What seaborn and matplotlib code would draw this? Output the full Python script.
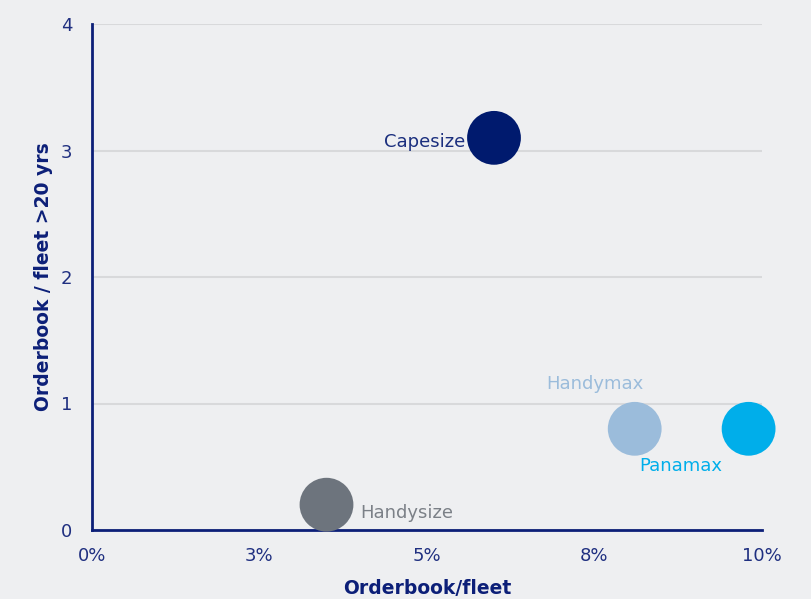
import matplotlib
matplotlib.use("Agg")
import matplotlib.pyplot as plt
import seaborn as sns
import pandas as pd

# Dry bulk segments: orderbook as share of fleet vs orderbook relative to fleet older than 20 years
segments = ["Capesize", "Handymax", "Panamax", "Handysize"]
orderbook_fleet_pct = [6.0, 8.1, 9.8, 3.5]
orderbook_vs_old_fleet = [3.1, 0.8, 0.8, 0.2]
segment_colors = ["#001a6e", "#9bbcdb", "#00aeea", "#6d747d"]
label_colors = ["#1b2f7e", "#9bbcdb", "#00aeea", "#7b8087"]

x_ticks = [0, 2.5, 5, 7.5, 10]
x_tick_labels = ["0%", "3%", "5%", "8%", "10%"]
y_ticks = [0, 1, 2, 3, 4]

df = pd.DataFrame({
    "segment": segments,
    "ob_fleet": orderbook_fleet_pct,
    "ob_old": orderbook_vs_old_fleet,
})

sns.set_theme(style="white")
plt.rcParams["font.family"] = ["DejaVu Sans"]

bg = "#eeeff1"
navy = "#0c1f78"
tick_color = "#1f2f80"

fig = plt.figure(figsize=(8.12, 5.99), dpi=100, facecolor=bg)
ax = fig.add_axes([92 / 812, 1 - 530 / 599, 670 / 812, 506 / 599])
ax.set_facecolor(bg)

sns.scatterplot(
    data=df, x="ob_fleet", y="ob_old", hue="segment",
    palette=dict(zip(segments, segment_colors)),
    s=1500, linewidth=0, alpha=1, legend=False, ax=ax, zorder=3, clip_on=False,
)

ax.set_xlim(0, 10)
ax.set_ylim(0, 4)
ax.set_xticks(x_ticks)
ax.set_xticklabels(x_tick_labels)
ax.set_yticks(y_ticks)
ax.set_yticklabels([str(v) for v in y_ticks])
ax.tick_params(axis="both", length=0, labelsize=13, labelcolor=tick_color)
ax.tick_params(axis="x", pad=12)
ax.tick_params(axis="y", pad=14)

ax.grid(axis="y", color="#d8d9db", linewidth=1.5, zorder=0)
ax.set_axisbelow(True)
for side in ["top", "right"]:
    ax.spines[side].set_visible(False)
for side in ["left", "bottom"]:
    ax.spines[side].set_color(navy)
    ax.spines[side].set_linewidth(2)
    ax.spines[side].set_zorder(2)

ax.set_xlabel("Orderbook/fleet", fontsize=13.5, fontweight="bold", color=navy)
ax.set_ylabel("Orderbook / fleet >20 yrs", fontsize=13.5, fontweight="bold", color=navy)
ax.xaxis.set_label_coords(0.5, (530 - 589) / 506)
ax.xaxis.label.set_va("center")
ax.yaxis.set_label_coords((44 - 92) / 670, 0.5)
ax.yaxis.label.set_va("center")

# Segment name labels beside each bubble (offsets in points)
offsets = [(-21, -3), (-29, 32), (-49, -27), (24, -6)]
aligns = ["right", "center", "center", "left"]
for name, xv, yv, c, off, ha in zip(segments, orderbook_fleet_pct, orderbook_vs_old_fleet,
                                      label_colors, offsets, aligns):
    ax.annotate(name, (xv, yv), xytext=off, textcoords="offset points",
                ha=ha, va="center", fontsize=13, color=c, zorder=4)

fig.savefig("out.png", dpi=100, facecolor=bg)
